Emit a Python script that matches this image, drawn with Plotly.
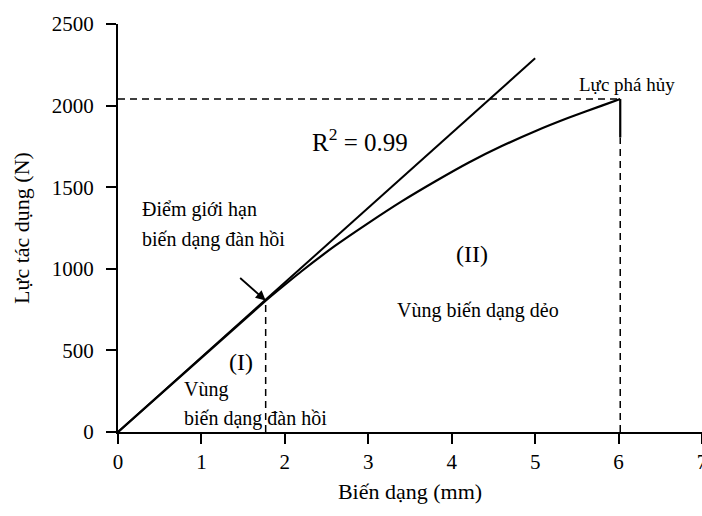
import plotly.graph_objects as go

# Elastic (linear) region
elastic_x = [0, 0.5, 1.0, 1.5, 1.77]
elastic_y = [0, 228, 455, 683, 805]

# Plastic region curve
plastic_x = [1.77, 2.2, 2.6, 3.0, 3.4, 3.8, 4.2, 4.6, 5.0, 5.4, 5.8, 6.02]
plastic_y = [805, 985, 1140, 1280, 1413, 1535, 1650, 1752, 1843, 1925, 2000, 2040]

# Linear fit line (R^2 = 0.99)
fit_x = [0, 5]
fit_y = [0, 2290]

# Key points
elastic_limit = (1.77, 805)
failure = (6.02, 2040)
failure_drop_y = 1805

FONT = "Liberation Serif"
BLACK = "#000000"

fig = go.Figure()

dash = "7px,5px"
fig.add_trace(go.Scatter(x=[0, failure[0]], y=[failure[1], failure[1]], mode="lines",
                         line=dict(color=BLACK, width=1.5, dash=dash), hoverinfo="skip"))
fig.add_trace(go.Scatter(x=[elastic_limit[0], elastic_limit[0]], y=[0, elastic_limit[1]], mode="lines",
                         line=dict(color=BLACK, width=1.5, dash=dash), hoverinfo="skip"))
fig.add_trace(go.Scatter(x=[failure[0], failure[0]], y=[0, failure_drop_y], mode="lines",
                         line=dict(color=BLACK, width=1.5, dash=dash), hoverinfo="skip"))

fig.add_trace(go.Scatter(x=fit_x, y=fit_y, mode="lines",
                         line=dict(color=BLACK, width=2), hoverinfo="skip"))
fig.add_trace(go.Scatter(x=elastic_x, y=elastic_y, mode="lines",
                         line=dict(color=BLACK, width=2.2), hoverinfo="skip"))
fig.add_trace(go.Scatter(x=plastic_x, y=plastic_y, mode="lines", line_shape="spline",
                         line=dict(color=BLACK, width=2.2, smoothing=0.6), hoverinfo="skip"))
fig.add_trace(go.Scatter(x=[failure[0], failure[0]], y=[failure[1], failure_drop_y], mode="lines",
                         line=dict(color=BLACK, width=2.2), hoverinfo="skip"))

ann = []
def txt(x, y, text, size=19, xanchor="center"):
    ann.append(dict(x=x, y=y, text=text, showarrow=False, xanchor=xanchor, yanchor="middle",
                    font=dict(family=FONT, size=size, color=BLACK)))

txt(2.9, 1790, "R<sup>2</sup> = 0.99", size=25)
txt(6.1, 2130, "Lực phá hủy", size=19)
txt(0.26, 1365, "Điểm giới hạn", size=20, xanchor="left")
txt(0.26, 1180, "biến dạng đàn hồi", size=20, xanchor="left")
txt(1.47, 428, "(I)", size=24)
txt(0.77, 263, "Vùng", size=20, xanchor="left")
txt(0.77, 84, "biến dạng đàn hồi", size=20, xanchor="left")
txt(4.24, 1088, "(II)", size=24)
txt(4.31, 745, "Vùng biến dạng dẻo", size=20)

# Arrow pointing to elastic limit point
ann.append(dict(x=elastic_limit[0], y=elastic_limit[1], ax=-27, ay=-24,
                showarrow=True, arrowhead=2, arrowsize=1.1, arrowwidth=1.8, arrowcolor=BLACK,
                text=""))

fig.update_layout(
    width=702, height=516,
    margin=dict(l=118, r=0, t=24, b=84),
    paper_bgcolor="white", plot_bgcolor="white",
    showlegend=False,
    font=dict(family=FONT, color=BLACK, size=21),
    annotations=ann,
    xaxis=dict(range=[0, 7], tickvals=[0, 1, 2, 3, 4, 5, 6, 7], showgrid=False, zeroline=False,
               showline=True, linecolor=BLACK, linewidth=2, ticks="outside", ticklen=10,
               tickwidth=2, tickcolor=BLACK, tickfont=dict(family=FONT, size=21),
               automargin=False, ticklabeloverflow="allow",
               title=dict(text="Biến dạng (mm)", font=dict(family=FONT, size=22), standoff=10)),
    yaxis=dict(range=[0, 2500], tickvals=[0, 500, 1000, 1500, 2000, 2500], showgrid=False, zeroline=False,
               showline=True, linecolor=BLACK, linewidth=2, ticks="outside", ticklen=10,
               tickwidth=2, tickcolor=BLACK, tickfont=dict(family=FONT, size=21),
               automargin=False, ticklabelstandoff=8,
               title=dict(text="Lực tác dụng (N)", font=dict(family=FONT, size=22), standoff=16)),
)

fig.write_html("out.html", config={"displayModeBar": False},
               post_script="document.body.style.margin='0';")
